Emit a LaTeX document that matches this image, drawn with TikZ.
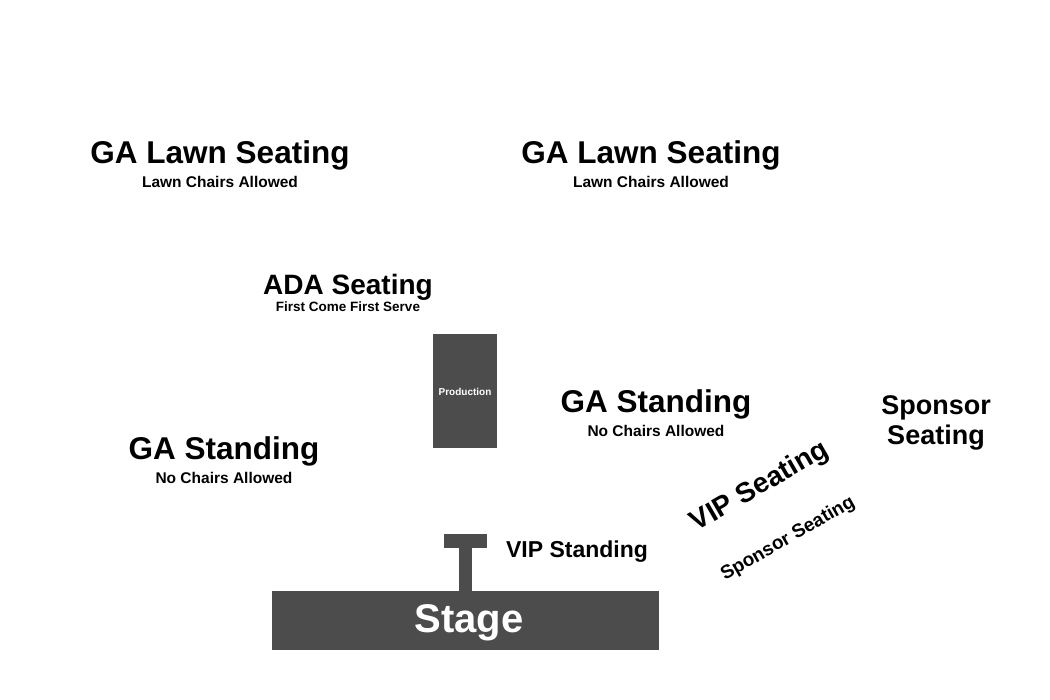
\documentclass[tikz,border=0pt]{standalone}
\usepackage{fontspec}
\setmainfont{Liberation Sans}
\begin{document}
\begin{tikzpicture}[x=1pt,y=-1pt,
  lbl/.style={font=\bfseries, inner sep=0pt, text=black},
  blk/.style={fill=black!70, draw=none}]
\useasboundingbox (0,0) rectangle (1050,700);
\fill[white] (0,0) rectangle (1050,700);
\def\fs#1{\fontsize{#1}{#1}\selectfont}
\node[lbl] (l1) at (220,155) {\fs{31.5}GA Lawn Seating};
\node[lbl] (l1s) at (220,182) {\fs{15.5}Lawn Chairs Allowed};
\node[lbl] (l2) at (651,155) {\fs{31.5}GA Lawn Seating};
\node[lbl] (l2s) at (651,182) {\fs{15.5}Lawn Chairs Allowed};
\node[lbl] (ada) at (348,287) {\fs{28}ADA Seating};
\node[lbl] (adas) at (348,307) {\fs{13.5}First Come First Serve};
\fill[blk] (433,334) rectangle (497,448);
\node[lbl, text=white] (prod) at (465,392) {\fs{10}Production};
\node[lbl] (gs1) at (656,404) {\fs{31.5}GA Standing};
\node[lbl] (gs1s) at (656,431) {\fs{15.5}No Chairs Allowed};
\node[lbl] (gs2) at (224,451) {\fs{31.5}GA Standing};
\node[lbl] (gs2s) at (224,478) {\fs{15.5}No Chairs Allowed};
\node[lbl] (sp1) at (936,408) {\fs{27}Sponsor};
\node[lbl] (sp2) at (936,438) {\fs{27}Seating};
\node[lbl, rotate=30] (vip) at (760,487) {\fs{28}VIP Seating};
\node[lbl, rotate=30] (sps) at (788,539) {\fs{19}Sponsor Seating};
\node[lbl] (vips) at (577,552) {\fs{23}VIP Standing};
\fill[blk] (444,534) rectangle (487,548);
\fill[blk] (459,547) rectangle (472,592);
\fill[blk] (272,591) rectangle (659,650);
\node[lbl, text=white] (stage) at (469,623) {\fs{40}Stage};
\end{tikzpicture}
\end{document}
